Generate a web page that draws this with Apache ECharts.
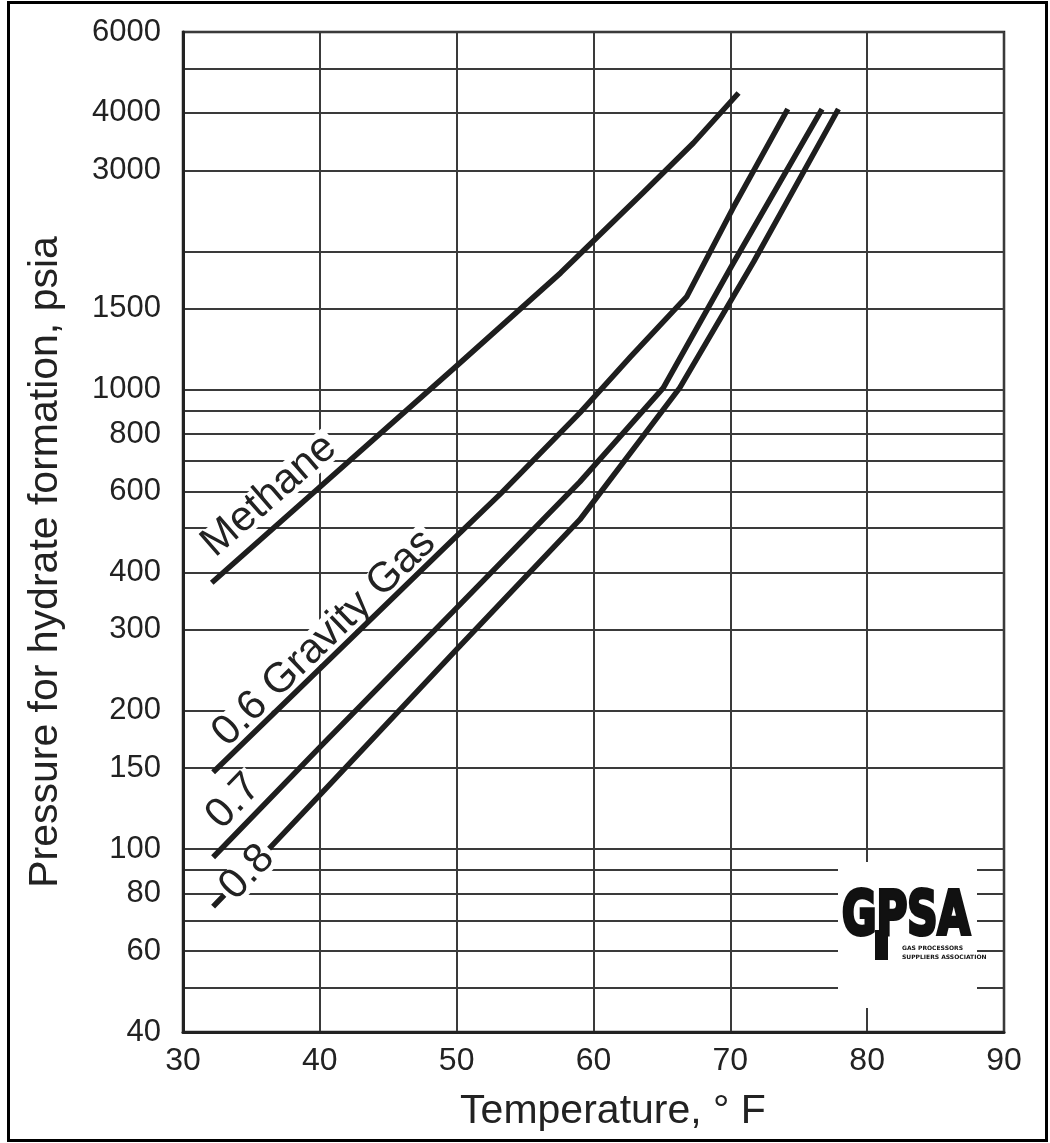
<!DOCTYPE html>
<html>
<head>
<meta charset="utf-8">
<script src="https://cdn.jsdelivr.net/npm/echarts@6/dist/echarts.min.js"></script>
<style>
html,body{margin:0;padding:0;background:#fff;}
#chart{width:1050px;height:1143px;}
</style>
</head>
<body>
<div id="chart"></div>
<script>
// ---- data ----
const methaneT = [32.1, 50.0, 57.6, 63.6, 67.3, 70.6];
const methaneP = [380, 1126, 1795, 2679, 3440, 4420];

const gas06T = [32.2, 50.0, 53.2, 59.0, 62.7, 66.8, 70.2, 74.2];
const gas06P = [147, 480, 593, 890, 1178, 1591, 2485, 4079];

const gas07T = [32.2, 40.2, 50.0, 59.0, 65.1, 70.1, 76.7];
const gas07P = [96, 169, 335, 630, 1009, 1858, 4079];

const gas08T = [32.2, 36.4, 40.2, 50.0, 59.0, 66.3, 71.7, 77.9];
const gas08P = [75, 101, 133, 272, 521, 1009, 1896, 4079];

const curveNames = ['Methane', '0.6 Gravity Gas', '0.7', '0.8'];

const yLabelValues = [40, 60, 80, 100, 150, 200, 300, 400, 600, 800, 1000, 1500, 3000, 4000, 6000];
const yGridValues = [40, 50, 60, 70, 80, 90, 100, 150, 200, 300, 400, 500, 600, 700, 800, 900, 1000, 1500, 2000, 3000, 4000, 5000, 6000];

const xTitle = 'Temperature, \u00B0 F';
const yTitle = 'Pressure for hydrate formation, psia';
const logoMain = 'GPSA';
const logoSub = ['GAS PROCESSORS', 'SUPPLIERS ASSOCIATION'];

// ---- layout (label anchors in data space, angles in degrees) ----
const labelAnchors = [[36.3, 588], [40.31, 288], [33.7, 127], [34.7, 89]];
const labelAngles = [41, 44, 46, 46];

function pairs(t, p) { return t.map((v, i) => [v, p[i]]); }

const FONT = '"Liberation Sans", Arial, Helvetica, sans-serif';
const INK = '#1e1e1e';

const chart = echarts.init(document.getElementById('chart'), null, { renderer: 'canvas' });

const lineSeries = [
  pairs(methaneT, methaneP),
  pairs(gas06T, gas06P),
  pairs(gas07T, gas07P),
  pairs(gas08T, gas08P)
].map((d, i) => ({
  name: curveNames[i],
  type: 'line',
  data: d,
  symbol: 'none',
  smooth: false,
  z: 5,
  lineStyle: { color: INK, width: 5.5, join: 'round', cap: 'butt' },
  silent: true
}));

const option = {
  backgroundColor: '#fff',
  animation: false,
  grid: {
    left: 183, right: 46, top: 32, bottom: 111,
    containLabel: false,
    outerBoundsMode: 'none',
    show: true,
    borderColor: '#222',
    borderWidth: 2.5,
    backgroundColor: 'transparent'
  },
  xAxis: {
    type: 'value',
    min: 30, max: 90, interval: 10,
    axisLine: { show: true, onZero: false, lineStyle: { color: '#222', width: 3 } },
    axisTick: { show: false },
    axisLabel: { color: '#222', fontFamily: FONT, fontSize: 32, margin: 13 },
    splitLine: { show: true, lineStyle: { color: '#3a3a3a', width: 2 } }
  },
  yAxis: {
    type: 'log',
    logBase: 10,
    min: 40, max: 6000,
    axisLine: { show: true, onZero: false, lineStyle: { color: '#222', width: 3 } },
    axisTick: { show: false, customValues: yGridValues },
    axisLabel: {
      color: '#222', fontFamily: FONT, fontSize: 31, margin: 22,
      customValues: yLabelValues,
      formatter: function (v) { return String(Math.round(v)); }
    },
    splitLine: { show: true, lineStyle: { color: '#3a3a3a', width: 2 } }
  },
  series: lineSeries
};

chart.setOption(option);

// ---- text labels & decorations ----
const g = [];
curveNames.forEach((name, i) => {
  const p = chart.convertToPixel({ gridIndex: 0 }, labelAnchors[i]);
  g.push({
    type: 'text',
    x: p[0], y: p[1],
    rotation: labelAngles[i] * Math.PI / 180,
    z: i === 3 ? 10 : 3,
    silent: true,
    style: {
      text: name,
      font: '42px ' + FONT,
      fill: '#222',
      align: 'center',
      verticalAlign: 'middle',
      lineHeight: 33,
      backgroundColor: '#fff',
      padding: [0, 3]
    }
  });
});

// axis titles
g.push({
  type: 'text', x: 613, y: 1112, z: 3, silent: true,
  style: { text: xTitle, font: '41px ' + FONT, fill: '#222', align: 'center', verticalAlign: 'middle' }
});
g.push({
  type: 'text', x: 46, y: 562, rotation: Math.PI / 2, z: 3, silent: true,
  style: { text: yTitle, font: '41px ' + FONT, fill: '#222', align: 'center', verticalAlign: 'middle' }
});

// GPSA logo
g.push({ type: 'rect', z: 3, silent: true, shape: { x: 838, y: 862, width: 139, height: 146 }, style: { fill: '#fff' } });
g.push({
  type: 'text', x: 842, y: 918, scaleX: 0.7, z: 4, silent: true,
  style: { text: logoMain, font: 'bold 60px "DejaVu Sans", sans-serif', fill: '#111', stroke: '#111', lineWidth: 4, align: 'left', verticalAlign: 'middle' }
});
g.push({ type: 'rect', z: 4, silent: true, shape: { x: 875, y: 930, width: 13, height: 30 }, style: { fill: '#111' } });
g.push({
  type: 'text', x: 902, y: 948, z: 4, silent: true,
  style: { text: logoSub[0], font: 'bold 6px "DejaVu Sans", sans-serif', fill: '#111', align: 'left', verticalAlign: 'middle' }
});
g.push({
  type: 'text', x: 902, y: 957, z: 4, silent: true,
  style: { text: logoSub[1], font: 'bold 6px "DejaVu Sans", sans-serif', fill: '#111', align: 'left', verticalAlign: 'middle' }
});

// outer frame
g.push({
  type: 'rect', z: 20, silent: true,
  shape: { x: 8.5, y: 2.5, width: 1038, height: 1138 },
  style: { fill: 'none', stroke: '#000', lineWidth: 3 }
});

chart.setOption({ graphic: g });
</script>
</body>
</html>
